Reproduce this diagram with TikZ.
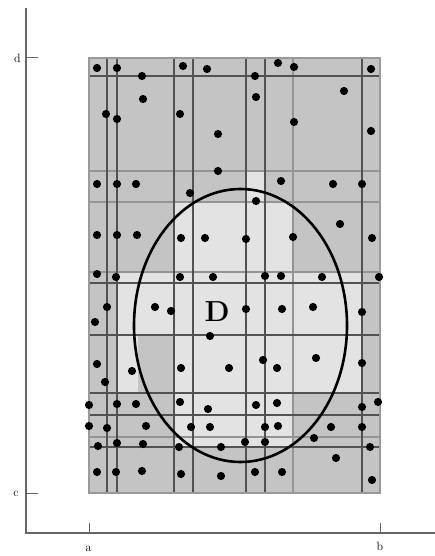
\documentclass[tikz,border=0pt]{standalone}
\begin{document}
\begin{tikzpicture}[x=1pt,y=-1pt,
  darkcell/.style={fill=black!23},
  lightcell/.style={fill=black!11},
  thinline/.style={draw=black!68,line width=1.2pt},
  bandline/.style={draw=black!42,line width=2.6pt},
  frameline/.style={draw=black!40,line width=1.5pt},
  dotmark/.style={fill=black},
  axisline/.style={draw=black!60,line width=1.8pt},
  tickline/.style={draw=black!60,line width=1pt},
  lbl/.style={font=\fontsize{12}{12}\selectfont,inner sep=0pt},
  regionline/.style={draw=black,line width=2.6pt}]
\useasboundingbox (0,0) rectangle (435,556);
% base
\fill[darkcell] (89,58) rectangle (380,493);
% light cells
\fill[lightcell] (246,171) rectangle (265,202);
\fill[lightcell] (174,202) rectangle (293,272);
\fill[lightcell] (117,272) rectangle (362,335);
\fill[lightcell] (117,335) rectangle (138,393);
\fill[lightcell] (174,335) rectangle (362,393);
\fill[lightcell] (174,393) rectangle (293,447);
% grid
\foreach \yy in {171,202,272,437} \draw[bandline] (89,\yy) -- (380,\yy);
\draw[bandline] (293,58) -- (293,493);
\foreach \xx in {107,117,174,193,246,265,362} \draw[thinline] (\xx,58) -- (\xx,493);
\foreach \yy in {76,283,335,393,415,447} \draw[thinline] (89,\yy) -- (380,\yy);
\draw[frameline] (89,58) rectangle (380,493);
% region D
\draw[regionline] (240.5,325.5) ellipse [x radius=106.5pt, y radius=136.5pt];
% sample points
\foreach \p in {(97,68),(117,68),(142,76),(183,66),(207,69),(255,76),(278,63),(294,67),(371,69),
  (143,99),(106,114),(117,119),(180,114),(256,97),(344,91),(294,122),(371,131),(218,134),(218,171),
  (97,184),(117,184),(136,184),(190,193),(281,181),(333,184),(362,184),(256,201),
  (97,235),(117,235),(137,235),(181,238),(205,238),(246,239),(293,237),(340,224),(372,238),
  (97,274),(116,277),(180,277),(213,277),(265,276),(281,276),(322,277),(379,277),
  (107,307),(95,322),(155,307),(171,311),(246,309),(282,309),(313,307),(362,312),(210,336),
  (97,364),(105,382),(132,371),(181,368),(229,368),(263,360),(277,368),(316,358),(362,363),
  (89,405),(117,404),(136,404),(180,402),(208,409),(256,405),(277,403),(362,407),(378,402),
  (89,426),(107,428),(146,426),(191,427),(210,427),(265,427),(278,426),(331,427),(362,427),(314,438),
  (98,446),(117,443),(143,444),(179,447),(221,447),(245,442),(265,442),(370,447),(336,458),
  (97,472),(116,472),(142,471),(181,474),(221,476),(255,472),(282,472),(372,480)}
  \fill[dotmark] \p circle[radius=4.1pt];
\node[inner sep=0pt] (lblD) at (217,312) {\fontsize{29}{29}\selectfont\bfseries D};
% axes
\coordinate (axTop) at (26,8);
\coordinate (orig) at (26,533);
\coordinate (axRight) at (435,533);
\draw[axisline] (axTop) -- (orig) -- (axRight);
\coordinate (ta) at (89,533);
\coordinate (tb) at (380,533);
\coordinate (tc) at (26,493);
\coordinate (td) at (26,58);
\draw[tickline] (ta) -- ++(0,-10);
\draw[tickline] (tb) -- ++(0,-10);
\draw[tickline] (tc) -- ++(12,0);
\draw[tickline] (td) -- ++(12,0);
\node[lbl] (lbla) at (88.5,549) {a};
\node[lbl] (lblb) at (380,546) {b};
\node[lbl] (lblc) at (16,494) {c};
\node[lbl] (lbld) at (17.5,58) {d};
\end{tikzpicture}
\end{document}
